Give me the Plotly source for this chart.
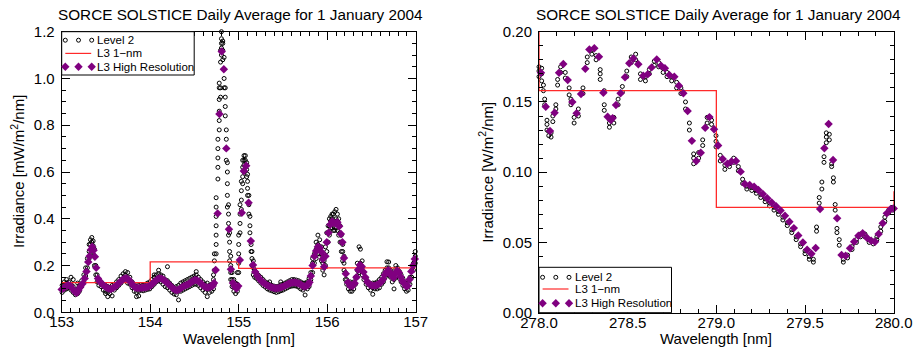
import plotly.graph_objects as go

# ---------------- 153-157 nm panel (mW/m^2/nm) ----------------
hr_left_wl = [
    153.000, 153.025, 153.050, 153.075, 153.100, 153.125, 153.150, 153.170, 153.190, 153.210,
    153.235, 153.260, 153.280, 153.300, 153.315, 153.330, 153.345, 153.360, 153.375, 153.390,
    153.410, 153.430, 153.455, 153.480, 153.505, 153.530, 153.555, 153.580, 153.605, 153.630,
    153.655, 153.680, 153.705, 153.730, 153.755, 153.780, 153.805, 153.830, 153.855, 153.880,
    153.905, 153.930, 153.955, 153.980, 154.005, 154.030, 154.055, 154.080, 154.105, 154.130,
    154.155, 154.180, 154.205, 154.230, 154.255, 154.280, 154.305, 154.330, 154.355, 154.380,
    154.405, 154.430, 154.455, 154.480, 154.505, 154.530, 154.555, 154.580, 154.605, 154.630,
    154.655, 154.680, 154.705, 154.722, 154.740, 154.762, 154.782, 154.808, 154.832, 154.860,
    154.890, 154.912, 154.935, 154.955, 154.975, 154.995, 155.013, 155.035, 155.058, 155.085,
    155.112, 155.137, 155.162, 155.187, 155.212, 155.237, 155.262, 155.287, 155.312, 155.337,
    155.362, 155.387, 155.412, 155.437, 155.462, 155.487, 155.512, 155.537, 155.562, 155.587,
    155.612, 155.637, 155.662, 155.687, 155.712, 155.737, 155.762, 155.785, 155.800, 155.815,
    155.835, 155.855, 155.875, 155.895, 155.915, 155.935, 155.950, 155.965, 155.980, 155.995,
    156.015, 156.035, 156.055, 156.075, 156.095, 156.115, 156.135, 156.155, 156.172, 156.190,
    156.210, 156.235, 156.260, 156.285, 156.310, 156.330, 156.350, 156.370, 156.390, 156.410,
    156.430, 156.455, 156.480, 156.505, 156.530, 156.555, 156.580, 156.605, 156.630, 156.650,
    156.670, 156.690, 156.710, 156.730, 156.750, 156.770, 156.790, 156.810, 156.830, 156.850,
    156.870, 156.890, 156.910, 156.930, 156.950, 156.970, 156.990,
]
hr_left_irr = [
    0.098, 0.104, 0.112, 0.117, 0.112, 0.100, 0.088, 0.083, 0.095, 0.108,
    0.122, 0.145, 0.174, 0.215, 0.240, 0.268, 0.280, 0.265, 0.238, 0.190,
    0.145, 0.132, 0.122, 0.113, 0.106, 0.102, 0.100, 0.104, 0.110, 0.118,
    0.128, 0.137, 0.144, 0.146, 0.140, 0.130, 0.116, 0.106, 0.104, 0.104,
    0.105, 0.106, 0.107, 0.110, 0.115, 0.124, 0.133, 0.141, 0.146, 0.144,
    0.138, 0.130, 0.122, 0.112, 0.103, 0.096, 0.094, 0.099, 0.106, 0.112,
    0.116, 0.120, 0.126, 0.133, 0.138, 0.137, 0.131, 0.121, 0.112, 0.107,
    0.106, 0.109, 0.113, 0.125, 0.181, 0.423, 0.848, 1.115, 1.039, 0.701,
    0.355, 0.184, 0.125, 0.110, 0.102, 0.112, 0.224, 0.426, 0.604, 0.627,
    0.469, 0.305, 0.202, 0.172, 0.155, 0.142, 0.132, 0.124, 0.118, 0.113,
    0.108, 0.105, 0.103, 0.103, 0.105, 0.108, 0.112, 0.117, 0.122, 0.125,
    0.127, 0.127, 0.125, 0.122, 0.116, 0.110, 0.112, 0.118, 0.128, 0.155,
    0.200, 0.240, 0.262, 0.280, 0.276, 0.258, 0.228, 0.195, 0.240, 0.300,
    0.340, 0.375, 0.388, 0.383, 0.380, 0.385, 0.368, 0.335, 0.300, 0.232,
    0.165, 0.128, 0.113, 0.112, 0.124, 0.150, 0.182, 0.202, 0.196, 0.172,
    0.150, 0.130, 0.119, 0.115, 0.114, 0.116, 0.120, 0.128, 0.140, 0.160,
    0.172, 0.180, 0.170, 0.155, 0.148, 0.165, 0.178, 0.170, 0.152, 0.135,
    0.124, 0.112, 0.113, 0.140, 0.175, 0.200, 0.228,
]

# Level 2 samples: several scans per wavelength bin
l2_left_wl = [
    153.005, 153.030, 153.055, 153.080, 153.105, 153.130, 153.155, 153.180, 153.200, 153.225,
    153.250, 153.270, 153.290, 153.310, 153.325, 153.340, 153.355, 153.370, 153.385, 153.400,
    153.420, 153.445, 153.470, 153.495, 153.520, 153.545, 153.570, 153.595, 153.620, 153.645,
    153.670, 153.695, 153.720, 153.745, 153.770, 153.795, 153.820, 153.845, 153.870, 153.895,
    153.920, 153.945, 153.970, 153.995, 154.020, 154.045, 154.070, 154.095, 154.120, 154.145,
    154.170, 154.195, 154.220, 154.245, 154.270, 154.295, 154.320, 154.345, 154.370, 154.395,
    154.420, 154.445, 154.470, 154.495, 154.520, 154.545, 154.570, 154.595, 154.620, 154.645,
    154.670, 154.695, 154.715, 154.725, 154.745, 154.765, 154.780, 154.795, 154.805, 154.820,
    154.835, 154.848, 154.860, 154.872, 154.885, 154.897, 154.910, 154.925, 154.945, 154.965,
    154.985, 155.000, 155.015, 155.030, 155.045, 155.060, 155.075, 155.090, 155.100, 155.115,
    155.127, 155.140, 155.150, 155.165, 155.180, 155.200, 155.225, 155.250, 155.275, 155.300,
    155.325, 155.350, 155.375, 155.400, 155.425, 155.450, 155.475, 155.500, 155.525, 155.550,
    155.575, 155.600, 155.625, 155.650, 155.675, 155.700, 155.725, 155.750, 155.775, 155.795,
    155.815, 155.835, 155.855, 155.875, 155.895, 155.915, 155.935, 155.950, 155.965, 155.980,
    155.995, 156.010, 156.025, 156.040, 156.055, 156.070, 156.085, 156.100, 156.115, 156.130,
    156.145, 156.160, 156.175, 156.190, 156.205, 156.220, 156.240, 156.260, 156.280, 156.300,
    156.320, 156.340, 156.360, 156.375, 156.395, 156.415, 156.440, 156.465, 156.490, 156.515,
    156.540, 156.565, 156.590, 156.615, 156.635, 156.655, 156.675, 156.695, 156.715, 156.735,
    156.755, 156.775, 156.795, 156.815, 156.835, 156.855, 156.875, 156.895, 156.915, 156.935,
    156.955, 156.975, 156.995,
]
l2_left_irr = [
    [0.085, 0.100, 0.115], [0.095, 0.120, 0.130], [0.100, 0.125, 0.140], [0.105, 0.130],
    [0.095, 0.120, 0.150], [0.085, 0.110, 0.140], [0.075, 0.095], [0.080, 0.100, 0.125],
    [0.090, 0.115], [0.110, 0.135], [0.130, 0.160], [0.155, 0.190], [0.190, 0.230],
    [0.230, 0.260, 0.290], [0.250, 0.290, 0.310], [0.270, 0.300, 0.320], [0.250, 0.285, 0.305],
    [0.200, 0.240, 0.270], [0.160, 0.200], [0.130, 0.160], [0.115, 0.140], [0.110, 0.130],
    [0.095, 0.120], [0.080, 0.090, 0.115], [0.067, 0.085, 0.110], [0.080, 0.105],
    [0.070, 0.100, 0.115], [0.095, 0.120], [0.105, 0.130], [0.115, 0.140], [0.125, 0.155],
    [0.135, 0.165], [0.135, 0.160, 0.174], [0.125, 0.170], [0.120, 0.150], [0.105, 0.130],
    [0.090, 0.120], [0.067, 0.085, 0.110], [0.070, 0.090, 0.115], [0.095, 0.118],
    [0.092, 0.117], [0.095, 0.120], [0.098, 0.125], [0.100, 0.130], [0.110, 0.140],
    [0.120, 0.150, 0.160], [0.130, 0.160], [0.135, 0.165, 0.180], [0.130, 0.160],
    [0.120, 0.155], [0.110, 0.140], [0.105, 0.135, 0.195], [0.095, 0.125], [0.085, 0.115],
    [0.078, 0.105], [0.075, 0.110], [0.053, 0.090, 0.115], [0.090, 0.125], [0.095, 0.130],
    [0.100, 0.135], [0.105, 0.140], [0.110, 0.145], [0.115, 0.150], [0.120, 0.155],
    [0.120, 0.160, 0.174], [0.115, 0.150], [0.105, 0.140], [0.095, 0.130], [0.085, 0.120],
    [0.067, 0.100, 0.125], [0.085, 0.115], [0.090, 0.120], [0.100, 0.140, 0.160],
    [0.12, 0.18, 0.22, 0.25],
    [0.25, 0.29, 0.33, 0.37, 0.41, 0.45, 0.49],
    [0.57, 0.62, 0.66, 0.70, 0.74],
    [0.78, 0.82, 0.86, 0.91, 0.96, 0.98],
    [0.92, 0.96, 1.07, 1.12],
    [1.10, 1.13, 1.15, 1.17, 1.20],
    [1.08, 1.12, 1.15, 1.16],
    [0.96, 1.00, 1.04, 1.09],
    [0.84, 0.88, 0.92, 0.96],
    [0.65, 0.70, 0.74, 0.78],
    [0.45, 0.50, 0.55, 0.60, 0.64],
    [0.33, 0.38, 0.42, 0.46],
    [0.22, 0.26, 0.30, 0.34],
    [0.14, 0.17, 0.20, 0.24],
    [0.11, 0.14, 0.17],
    [0.09, 0.12, 0.14],
    [0.08, 0.105, 0.125],
    [0.09, 0.12, 0.17],
    [0.17, 0.21, 0.25, 0.29, 0.33],
    [0.34, 0.38, 0.42, 0.46],
    [0.44, 0.48, 0.52, 0.56],
    [0.55, 0.58, 0.62, 0.65],
    [0.60, 0.63, 0.65, 0.67],
    [0.62, 0.65, 0.67],
    [0.58, 0.61, 0.64],
    [0.50, 0.53, 0.56, 0.59],
    [0.42, 0.46, 0.50],
    [0.34, 0.37, 0.41],
    [0.26, 0.29],
    [0.20, 0.23, 0.26],
    [0.16, 0.19, 0.22],
    [0.15, 0.18],
    [0.145, 0.170], [0.135, 0.158], [0.125, 0.150], [0.115, 0.140], [0.108, 0.130],
    [0.100, 0.125], [0.095, 0.118, 0.130], [0.092, 0.115], [0.088, 0.112], [0.085, 0.110],
    [0.088, 0.112], [0.092, 0.118, 0.130], [0.095, 0.120], [0.100, 0.125], [0.105, 0.130],
    [0.110, 0.135], [0.112, 0.140], [0.113, 0.140], [0.112, 0.138], [0.108, 0.135],
    [0.100, 0.130], [0.095, 0.125], [0.074, 0.105, 0.125], [0.100, 0.130], [0.110, 0.145],
    [0.14, 0.17], [0.17, 0.21, 0.23], [0.21, 0.25], [0.23, 0.27, 0.30], [0.25, 0.29, 0.33],
    [0.25, 0.28, 0.31], [0.22, 0.25, 0.28], [0.18, 0.21, 0.24], [0.16, 0.19, 0.22],
    [0.20, 0.24, 0.28], [0.26, 0.30, 0.34], [0.30, 0.34, 0.37], [0.33, 0.37, 0.40],
    [0.36, 0.39, 0.41], [0.36, 0.40, 0.42], [0.35, 0.39, 0.42], [0.35, 0.39, 0.43],
    [0.36, 0.40, 0.44], [0.35, 0.39, 0.42], [0.33, 0.37, 0.40], [0.30, 0.34, 0.37],
    [0.26, 0.30, 0.33], [0.22, 0.26, 0.29], [0.18, 0.21, 0.24], [0.14, 0.17], [0.12, 0.14],
    [0.10, 0.12], [0.09, 0.11, 0.13], [0.09, 0.115], [0.10, 0.13], [0.12, 0.15],
    [0.15, 0.18, 0.21], [0.17, 0.20, 0.28], [0.18, 0.21, 0.27], [0.16, 0.19, 0.22],
    [0.14, 0.17], [0.12, 0.145], [0.105, 0.13], [0.095, 0.12], [0.077, 0.105, 0.125],
    [0.10, 0.125], [0.10, 0.13], [0.105, 0.14], [0.12, 0.15], [0.13, 0.165], [0.15, 0.18],
    [0.16, 0.19, 0.216], [0.16, 0.19, 0.215], [0.15, 0.18], [0.13, 0.165],
    [0.10, 0.14, 0.165], [0.15, 0.185, 0.20], [0.155, 0.19], [0.145, 0.175], [0.13, 0.16],
    [0.115, 0.145], [0.10, 0.13], [0.09, 0.12], [0.095, 0.125], [0.12, 0.15], [0.15, 0.18],
    [0.18, 0.21], [0.21, 0.24, 0.26],
]

# L3 1-nm binned irradiance, one value per 1-nm bin (step starts)
l3_left_wl = [153.0, 154.0, 155.0, 156.0, 157.0]
l3_left_irr = [0.127, 0.216, 0.188, 0.190, 0.190]

# ---------------- 278-280 nm panel (W/m^2/nm) ----------------
hr_right_wl = [
    278.011, 278.038, 278.062, 278.088, 278.113, 278.137, 278.162, 278.188, 278.212, 278.237,
    278.261, 278.284, 278.312, 278.338, 278.363, 278.387, 278.405, 278.415, 278.434, 278.460,
    278.485, 278.509, 278.532, 278.560, 278.588, 278.613, 278.635, 278.664, 278.688, 278.710,
    278.735, 278.763, 278.789, 278.814, 278.838, 278.862, 278.887, 278.912, 278.937, 278.961,
    278.987, 279.010, 279.036, 279.062, 279.085, 279.111, 279.137, 279.161, 279.188, 279.213,
    279.237, 279.262, 279.287, 279.312, 279.337, 279.362, 279.387, 279.412, 279.437, 279.462,
    279.488, 279.512, 279.536, 279.560, 279.585, 279.609, 279.633, 279.658, 279.681, 279.706,
    279.729, 279.754, 279.777, 279.801, 279.825, 279.849, 279.873, 279.895, 279.915, 279.938,
    279.961, 279.983, 280.000,
]
hr_right_irr = [
    0.1708, 0.1466, 0.1293, 0.1423, 0.1708, 0.1770, 0.1656, 0.1500, 0.1419, 0.1557,
    0.1737, 0.1874, 0.1882, 0.1822, 0.1566, 0.1395, 0.1372, 0.1385, 0.1478, 0.1562,
    0.1676, 0.1775, 0.1810, 0.1768, 0.1687, 0.1697, 0.1746, 0.1803, 0.1758, 0.1740,
    0.1692, 0.1680, 0.1616, 0.1562, 0.1436, 0.1223, 0.1080, 0.1139, 0.1317, 0.1392,
    0.1305, 0.1190, 0.1094, 0.1060, 0.1076, 0.1080, 0.1004, 0.0916, 0.0909, 0.0897,
    0.0873, 0.0845, 0.0815, 0.0785, 0.0757, 0.0727, 0.0690, 0.0648, 0.0602, 0.0550,
    0.0500, 0.0448, 0.0420, 0.0460, 0.0738, 0.1170, 0.1343, 0.1087, 0.0672, 0.0411,
    0.0406, 0.0458, 0.0505, 0.0548, 0.0565, 0.0534, 0.0512, 0.0505, 0.0560, 0.0636,
    0.0707, 0.0738, 0.0742,
]

l2_right_wl = [
    278.000, 278.015, 278.025, 278.032, 278.045, 278.055, 278.068, 278.078, 278.095, 278.105,
    278.122, 278.148, 278.170, 278.180, 278.198, 278.222, 278.248, 278.272, 278.298, 278.322,
    278.345, 278.368, 278.397, 278.422, 278.446, 278.470, 278.495, 278.520, 278.545, 278.572,
    278.600, 278.622, 278.650, 278.675, 278.700, 278.722, 278.748, 278.776, 278.800, 278.826,
    278.848, 278.872, 278.900, 278.923, 278.948, 278.973, 278.998, 279.022, 279.048, 279.074,
    279.098, 279.124, 279.148, 279.172, 279.200, 279.225, 279.250, 279.275, 279.300, 279.325,
    279.350, 279.375, 279.400, 279.425, 279.450, 279.475, 279.500, 279.524, 279.547, 279.565,
    279.580, 279.595, 279.607, 279.620, 279.637, 279.650, 279.660, 279.670, 279.680, 279.693,
    279.716, 279.740, 279.765, 279.790, 279.813, 279.838, 279.862, 279.885, 279.905, 279.927,
    279.950, 279.972, 279.992,
]
l2_right_irr = [
    [0.168, 0.172, 0.175], [0.165, 0.170, 0.174], [0.158, 0.162], [0.148, 0.152],
    [0.130, 0.134, 0.137], [0.126, 0.129], [0.125, 0.128], [0.136, 0.140], [0.145, 0.148],
    [0.162, 0.166], [0.171, 0.175], [0.167, 0.171], [0.155, 0.160], [0.148, 0.152],
    [0.135, 0.139], [0.140, 0.145], [0.156, 0.160], [0.178, 0.182], [0.184, 0.187],
    [0.180, 0.183], [0.166, 0.170, 0.173], [0.144, 0.148, 0.158], [0.132, 0.135],
    [0.135, 0.139], [0.148, 0.152], [0.157, 0.161], [0.168, 0.172], [0.178, 0.182],
    [0.180, 0.184], [0.166, 0.170], [0.165, 0.168], [0.170, 0.173], [0.176, 0.179],
    [0.175, 0.178], [0.171, 0.174], [0.168, 0.171], [0.165, 0.168], [0.160, 0.164],
    [0.156, 0.160], [0.145, 0.150], [0.130, 0.135], [0.106, 0.110, 0.113], [0.110, 0.114],
    [0.119, 0.123], [0.135, 0.139], [0.134, 0.137], [0.118, 0.122, 0.126], [0.108, 0.112],
    [0.102, 0.105], [0.104, 0.106], [0.107, 0.110], [0.101, 0.104], [0.092, 0.095],
    [0.088, 0.090], [0.087, 0.089], [0.085, 0.087], [0.082, 0.084], [0.079, 0.081],
    [0.076, 0.078], [0.073, 0.075], [0.070, 0.072], [0.066, 0.068], [0.062, 0.064],
    [0.057, 0.059], [0.052, 0.054], [0.047, 0.049], [0.042, 0.044], [0.038, 0.040],
    [0.036, 0.038], [0.058, 0.061], [0.078, 0.082], [0.088, 0.093], [0.107, 0.111],
    [0.121, 0.125, 0.128], [0.123, 0.127], [0.104, 0.106], [0.093, 0.096], [0.073, 0.077],
    [0.057, 0.060], [0.048, 0.052], [0.036, 0.038], [0.039, 0.041], [0.045, 0.047],
    [0.050, 0.052], [0.054, 0.056], [0.054, 0.056], [0.050, 0.052], [0.049, 0.051],
    [0.052, 0.054], [0.058, 0.061], [0.065, 0.068], [0.071, 0.073], [0.073, 0.075],
]

# 1-nm bins; the outer entries are the neighbouring bins beyond the axis range
l3_right_wl = [277.0, 278.0, 279.0, 280.0, 281.0]
l3_right_irr = [0.210, 0.158, 0.075, 0.086, 0.086]

series_names = ["Level 2", "L3 1\u2212nm", "L3 High Resolution"]
title_text = "SORCE SOLSTICE Daily Average for 1 January 2004"
x_title = "Wavelength [nm]"
y_titles = ["Irradiance [mW/m<sup>2</sup>/nm]", "Irradiance [W/m<sup>2</sup>/nm]"]


def flatten(wls, groups):
    xs, ys = [], []
    for w, vals in zip(wls, groups):
        for v in vals:
            xs.append(w)
            ys.append(v)
    return xs, ys


FONT = "Liberation Sans, Arial, Helvetica, sans-serif"
PURPLE = "#800080"
RED = "#ff2a2a"
W, H = 918, 349

L2_MARKER = dict(symbol="circle-open", size=4, color="black", line=dict(width=1))
HR_MARKER = dict(symbol="diamond", size=6.5, color=PURPLE, line=dict(width=0))

fig = go.Figure()


def add_panel(xa, ya, l2x, l2y, l3x, l3y, hrx, hry):
    fig.add_trace(go.Scatter(x=l2x, y=l2y, mode="markers", name=series_names[0],
                             xaxis=xa, yaxis=ya, marker=L2_MARKER, cliponaxis=False,
                             showlegend=False))
    fig.add_trace(go.Scatter(x=l3x, y=l3y, mode="lines", name=series_names[1],
                             xaxis=xa, yaxis=ya, line=dict(color=RED, width=1.3, shape="hv"),
                             showlegend=False))
    fig.add_trace(go.Scatter(x=hrx, y=hry, mode="markers", name=series_names[2],
                             xaxis=xa, yaxis=ya, marker=HR_MARKER, cliponaxis=False,
                             showlegend=False))


lx, ly = flatten(l2_left_wl, l2_left_irr)
rx, ry = flatten(l2_right_wl, l2_right_irr)
add_panel("x", "y", lx, ly, l3_left_wl, l3_left_irr, hr_left_wl, hr_left_irr)
add_panel("x2", "y2", rx, ry, l3_right_wl, l3_right_irr, hr_right_wl, hr_right_irr)


def axis_common(**kw):
    d = dict(
        showline=True, linecolor="black", linewidth=1, mirror="allticks",
        ticks="inside", ticklen=8, tickwidth=1, tickcolor="black",
        showgrid=False, zeroline=False, automargin=False,
        tickfont=dict(family=FONT, size=15, color="black"),
        minor=dict(ticks="inside", ticklen=4, tickwidth=1, tickcolor="black", showgrid=False),
    )
    d.update(kw)
    return d


# plot-area frames in pixels: (left, right, top, bottom)
frames = [(61.7, 415.7, 31.7, 312.3), (539.0, 893.7, 31.7, 312.7)]


def px(x):
    return x / W


def py(y):
    return 1 - y / H


(l0, l1, lt, lb), (r0, r1, rt, rb) = frames

fig.update_layout(
    width=W, height=H, autosize=False,
    margin=dict(l=0, r=0, t=0, b=0),
    paper_bgcolor="white", plot_bgcolor="white",
    font=dict(family=FONT, color="black", size=15),
    showlegend=False,
    xaxis=axis_common(domain=[px(l0), px(l1)], anchor="y", range=[153, 157], tick0=153,
                      dtick=1, minor_dtick=0.1, ticklabelstandoff=-4),
    yaxis=axis_common(domain=[py(lb), py(lt)], anchor="x", range=[0, 1.2], tick0=0,
                      dtick=0.2, tickformat=".1f", minor_dtick=0.05, ticklabelstandoff=3),
    xaxis2=axis_common(domain=[px(r0), px(r1)], anchor="y2", range=[278, 280], tick0=278,
                       dtick=0.5, tickformat=".1f", minor_dtick=0.1, ticklabelstandoff=-4),
    yaxis2=axis_common(domain=[py(rb), py(rt)], anchor="x2", range=[0, 0.2], tick0=0,
                       dtick=0.05, tickformat=".2f", minor_dtick=0.01, ticklabelstandoff=3),
)

# titles and axis titles
y_title_x = [17.0, 485.5]
for i, (f0, f1, ft, fb) in enumerate(frames):
    cx = (f0 + f1) / 2
    fig.add_annotation(text=title_text, xref="paper", yref="paper", x=px(cx + 2), y=py(14),
                       xanchor="center", yanchor="middle", showarrow=False,
                       font=dict(family=FONT, size=15.3, color="black"))
    fig.add_annotation(text=x_title, xref="paper", yref="paper", x=px(cx), y=py(338),
                       xanchor="center", yanchor="middle", showarrow=False,
                       font=dict(family=FONT, size=15, color="black"))
    fig.add_annotation(text=y_titles[i], xref="paper", yref="paper", x=px(y_title_x[i]),
                       y=py((ft + fb) / 2), xanchor="center", yanchor="middle",
                       textangle=-90, showarrow=False,
                       font=dict(family=FONT, size=15, color="black"))


# boxed keys: (left, top, bottom, row centres measured from top)
legend_boxes = [
    (61.7, 31.7, 75.0, (8.5, 21.7, 35.0)),
    (539.0, 267.3, 312.7, (10.0, 21.7, 36.0)),
]
KEY_W = 132.5
KEY_DX = (3.6, 16.8, 30.0)

for bx, bt, bb, rows in legend_boxes:
    fig.add_shape(type="rect", xref="paper", yref="paper", x0=px(bx), x1=px(bx + KEY_W),
                  y0=py(bb), y1=py(bt), line=dict(color="black", width=1),
                  fillcolor="white", layer="above")
    r_l2, r_l3, r_hr = (bt + r for r in rows)
    for dx in KEY_DX:
        cx = bx + dx
        fig.add_shape(type="circle", xref="paper", yref="paper",
                      x0=px(cx - 2), x1=px(cx + 2), y0=py(r_l2 + 2), y1=py(r_l2 - 2),
                      line=dict(color="black", width=1), layer="above")
        d = 4.2
        path = (f"M {px(cx - d)},{py(r_hr)} L {px(cx)},{py(r_hr - d)} "
                f"L {px(cx + d)},{py(r_hr)} L {px(cx)},{py(r_hr + d)} Z")
        fig.add_shape(type="path", xref="paper", yref="paper", path=path,
                      fillcolor=PURPLE, line=dict(width=0), layer="above")
    fig.add_shape(type="line", xref="paper", yref="paper", x0=px(bx + 3.6), x1=px(bx + 29.5),
                  y0=py(r_l3), y1=py(r_l3), line=dict(color=RED, width=1.2), layer="above")
    for name, ry_ in zip(series_names, (r_l2, r_l3, r_hr)):
        fig.add_annotation(text=name, xref="paper", yref="paper", x=px(bx + 33.5), y=py(ry_),
                           xanchor="left", yanchor="middle", showarrow=False,
                           font=dict(family=FONT, size=11.5, color="black"))

fig.write_html("out.html")
